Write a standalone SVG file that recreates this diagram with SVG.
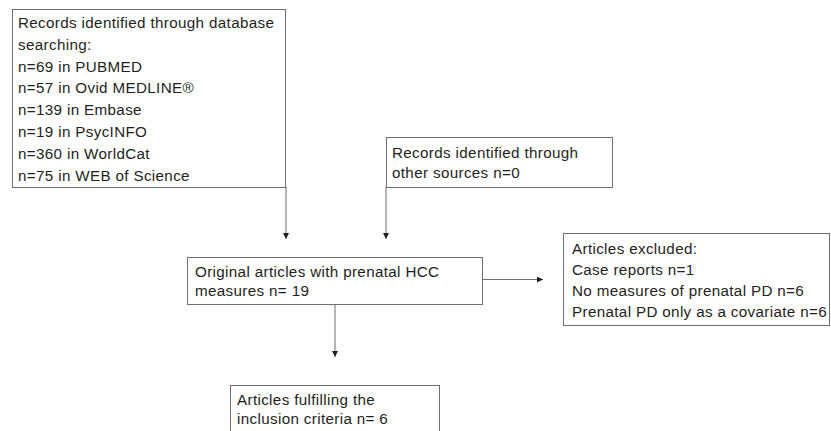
<svg xmlns="http://www.w3.org/2000/svg" width="831" height="431" viewBox="0 0 831 431">
<defs>
<marker id="ah" viewBox="0 0 10 10" refX="10" refY="5" markerWidth="6" markerHeight="6" orient="auto" markerUnits="userSpaceOnUse">
<path d="M0,0 L10,5 L0,10 z" fill="#231f20"/>
</marker>
</defs>
<style>
.box{fill:#fff;stroke:#6d6e71;stroke-width:1}
.t{font-family:"Liberation Sans",Arial,sans-serif;font-size:15.2px;letter-spacing:0.35px;fill:#231f20}
.c{fill:none;stroke:#6d6e71;stroke-width:1}
</style>
<rect width="831" height="431" fill="#fff"/>
<g id="connectors">
<path class="c" d="M286,187 V239" marker-end="url(#ah)"/>
<path class="c" d="M386,187 V239" marker-end="url(#ah)"/>
<path class="c" d="M482,279.5 H543" marker-end="url(#ah)"/>
<path class="c" d="M335,304 V357" marker-end="url(#ah)"/>
</g>
<g id="db">
<rect class="box" x="12.5" y="9.5" width="273" height="178"/>
<text class="t" x="18" y="28">Records identified through database</text>
<text class="t" x="18" y="50">searching:</text>
<text class="t" x="18" y="72">n=69 in PUBMED</text>
<text class="t" x="18" y="93">n=57 in Ovid MEDLINE®</text>
<text class="t" x="18" y="115">n=139 in Embase</text>
<text class="t" x="18" y="137">n=19 in PsycINFO</text>
<text class="t" x="18" y="159">n=360 in WorldCat</text>
<text class="t" x="18" y="181">n=75 in WEB of Science</text>
</g>
<g id="other">
<rect class="box" x="386.5" y="137.5" width="226" height="50"/>
<text class="t" x="392" y="158">Records identified through</text>
<text class="t" x="392" y="178">other sources n=0</text>
</g>
<g id="original">
<rect class="box" x="187.5" y="257.5" width="295" height="47"/>
<text class="t" x="195" y="277">Original articles with prenatal HCC</text>
<text class="t" x="195" y="296">measures n= 19</text>
</g>
<g id="excluded">
<rect class="box" x="563.5" y="233.5" width="266" height="92"/>
<text class="t" x="572" y="254">Articles excluded:</text>
<text class="t" x="572" y="275">Case reports n=1</text>
<text class="t" x="572" y="296">No measures of prenatal PD n=6</text>
<text class="t" x="572" y="317">Prenatal PD only as a covariate n=6</text>
</g>
<g id="included">
<rect class="box" x="230.5" y="385.5" width="209" height="60"/>
<text class="t" x="237" y="405">Articles fulfilling the</text>
<text class="t" x="237" y="424">inclusion criteria n= 6</text>
</g>
</svg>
